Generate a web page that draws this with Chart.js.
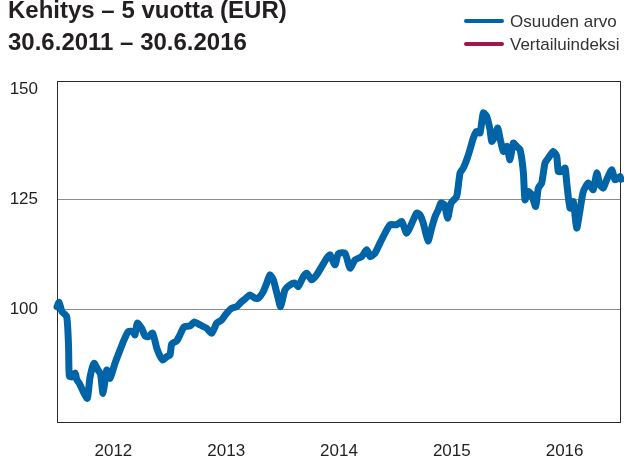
<!DOCTYPE html>
<html lang="fi">
<head>
<meta charset="utf-8">
<title>Kehitys – 5 vuotta (EUR)</title>
<script src="https://cdn.jsdelivr.net/npm/chart.js@4.4.1/dist/chart.umd.min.js"></script>
<style>
  html, body { margin: 0; padding: 0; background: #fff; }
  #wrap { width: 624px; height: 458px; }
</style>
</head>
<body>
<div id="wrap"><canvas id="chart" width="624" height="458"></canvas></div>
<script>
const titleLines = ['Kehitys – 5 vuotta (EUR)', '30.6.2011 – 30.6.2016'];
const yearTicks = [2012, 2013, 2014, 2015, 2016];
const valueTicks = [100, 125, 150];

// time as decimal years, 30.6.2011 = 2011.5
const dateYears = [
  2011.500, 2011.518, 2011.544, 2011.586, 2011.602, 2011.609, 2011.633, 2011.660, 2011.677, 2011.698,
  2011.733, 2011.769, 2011.793, 2011.828, 2011.863, 2011.886, 2011.908, 2011.941, 2011.970, 2012.014,
  2012.059, 2012.094, 2012.132, 2012.176, 2012.191, 2012.212, 2012.251, 2012.280, 2012.309, 2012.348,
  2012.384, 2012.413, 2012.437, 2012.473, 2012.502, 2012.517, 2012.561, 2012.590, 2012.626, 2012.679,
  2012.717, 2012.768, 2012.827, 2012.871, 2012.916, 2012.960, 2013.004, 2013.049, 2013.093, 2013.137,
  2013.167, 2013.211, 2013.255, 2013.285, 2013.329, 2013.359, 2013.388, 2013.418, 2013.453, 2013.483,
  2013.521, 2013.566, 2013.610, 2013.639, 2013.684, 2013.714, 2013.758, 2013.802, 2013.847, 2013.891,
  2013.920, 2013.965, 2013.994, 2014.053, 2014.098, 2014.142, 2014.201, 2014.246, 2014.275, 2014.319,
  2014.363, 2014.408, 2014.452, 2014.512, 2014.556, 2014.600, 2014.659, 2014.689, 2014.718, 2014.747,
  2014.789, 2014.822, 2014.851, 2014.880, 2014.904, 2014.934, 2014.964, 2014.993, 2015.043, 2015.073,
  2015.102, 2015.132, 2015.161, 2015.191, 2015.221, 2015.250, 2015.279, 2015.309, 2015.339, 2015.354,
  2015.383, 2015.407, 2015.427, 2015.457, 2015.487, 2015.516, 2015.545, 2015.575, 2015.605, 2015.634,
  2015.649, 2015.678, 2015.708, 2015.744, 2015.767, 2015.797, 2015.826, 2015.856, 2015.900, 2015.930,
  2015.944, 2015.974, 2016.004, 2016.019, 2016.048, 2016.077, 2016.107, 2016.137, 2016.166, 2016.210,
  2016.254, 2016.285, 2016.314, 2016.343, 2016.373, 2016.418, 2016.447, 2016.491, 2016.500
];

// Osuuden arvo, indexed 100 at start
const fundValues = [
  100.52, 101.55, 99.45, 98.32, 91.89, 84.84, 84.61, 85.52, 83.93, 83.18,
  81.27, 79.77, 84.61, 87.73, 86.20, 85.30, 80.91, 86.20, 84.32, 87.73,
  90.75, 93.02, 94.91, 94.91, 94.16, 96.82, 95.68, 93.93, 93.77, 94.55,
  91.20, 89.39, 88.48, 89.23, 89.61, 92.11, 92.80, 94.16, 95.98, 96.20,
  97.11, 96.43, 95.68, 94.55, 96.82, 97.57, 99.09, 100.23, 100.59, 101.73,
  102.34, 103.25, 102.50, 102.50, 104.00, 105.91, 107.80, 106.66, 103.25, 100.59,
  104.39, 105.52, 105.91, 105.14, 107.41, 108.18, 106.66, 107.80, 109.68, 111.59,
  112.34, 110.07, 112.57, 112.73, 109.32, 111.20, 111.95, 113.48, 111.95, 112.73,
  115.00, 117.27, 119.16, 119.16, 119.91, 117.27, 120.30, 121.82, 121.43, 119.55,
  115.52, 118.48, 120.98, 122.57, 124.09, 123.70, 120.68, 124.09, 125.59, 130.91,
  132.05, 133.93, 136.20, 138.86, 140.36, 140.00, 144.55, 143.77, 140.75, 138.09,
  139.23, 141.14, 138.86, 135.82, 136.95, 133.93, 137.73, 136.95, 136.20, 131.20,
  124.84, 126.73, 125.98, 123.32, 127.50, 128.64, 133.18, 134.32, 135.82, 134.68,
  131.27, 131.27, 132.05, 128.64, 122.95, 124.45, 118.41, 122.57, 126.73, 128.64,
  127.11, 130.91, 128.25, 127.50, 129.39, 131.66, 129.39, 130.14, 129.50
];

// benchmark has no values in this period, it only shows in the legend
const benchmarkValues = [];

const FONT = '"Liberation Sans", Arial, Helvetica, sans-serif';
const TEXT = '#231f20';

// plot frame, drawn under the line
const frame = {
  id: 'frame',
  beforeDatasetsDraw(chart) {
    const { ctx, chartArea: a } = chart;
    ctx.save();
    ctx.strokeStyle = '#2b2b2b';
    ctx.lineWidth = 1;
    ctx.strokeRect(a.left + 0.5, a.top + 0.5, a.right - a.left - 1, a.bottom - a.top);
    ctx.restore();
  }
};

// title on the left, legend on the right
const header = {
  id: 'header',
  afterDraw(chart) {
    const ctx = chart.ctx;
    ctx.save();
    ctx.fillStyle = TEXT;
    ctx.textAlign = 'left';
    ctx.textBaseline = 'alphabetic';
    ctx.font = 'bold 24px ' + FONT;
    ctx.fillText(titleLines[0], 8, 18);
    ctx.fillText(titleLines[1], 8, 50);

    ctx.font = '17px ' + FONT;
    chart.data.datasets.forEach((ds, i) => {
      const y = 21 + i * 23;
      ctx.strokeStyle = ds.borderColor;
      ctx.lineWidth = 4;
      ctx.lineCap = 'round';
      ctx.beginPath();
      ctx.moveTo(466, y);
      ctx.lineTo(502, y);
      ctx.stroke();
      ctx.fillStyle = '#333';
      ctx.fillText(ds.label, 510, y + 6);
    });
    ctx.restore();
  }
};

const toPoints = (xs, ys) => ys.map((v, i) => ({ x: xs[i], y: v }));

new Chart(document.getElementById('chart'), {
  type: 'line',
  data: {
    datasets: [
      {
        label: 'Osuuden arvo',
        data: toPoints(dateYears, fundValues),
        borderColor: '#0064a6',
        borderWidth: 7,
        tension: 0.2,
        borderJoinStyle: 'round',
        borderCapStyle: 'round',
        pointRadius: 0,
        clip: false
      },
      {
        label: 'Vertailuindeksi',
        data: toPoints(dateYears, benchmarkValues),
        borderColor: '#a1174b',
        borderWidth: 7,
        pointRadius: 0
      }
    ]
  },
  options: {
    responsive: false,
    animation: false,
    devicePixelRatio: 1,
    layout: { padding: { top: 81, right: 3, left: 0, bottom: 0 } },
    plugins: {
      legend: { display: false },
      tooltip: { enabled: false }
    },
    scales: {
      x: {
        type: 'linear',
        min: 2011.5,
        max: 2016.5,
        afterBuildTicks: s => { s.ticks = yearTicks.map(v => ({ value: v })); },
        afterFit: s => { s.height = 36; },
        grid: { display: false, drawTicks: false },
        border: { display: false },
        ticks: {
          padding: 19,
          autoSkip: false,
          maxRotation: 0,
          color: TEXT,
          font: { family: FONT, size: 17 },
          callback: v => String(v)
        }
      },
      y: {
        min: 74.4,
        max: 151.8,
        afterBuildTicks: s => { s.ticks = valueTicks.map(v => ({ value: v })); },
        afterFit: s => { s.width = 57; },
        grid: {
          drawTicks: false,
          lineWidth: 1,
          color: c => (c.tick && c.tick.value === 150) ? 'rgba(0,0,0,0)' : '#8c8c8c'
        },
        border: { display: false },
        ticks: {
          padding: 19,
          color: TEXT,
          font: { family: FONT, size: 17 },
          callback: v => String(v)
        }
      }
    }
  },
  plugins: [frame, header]
});
</script>
</body>
</html>
